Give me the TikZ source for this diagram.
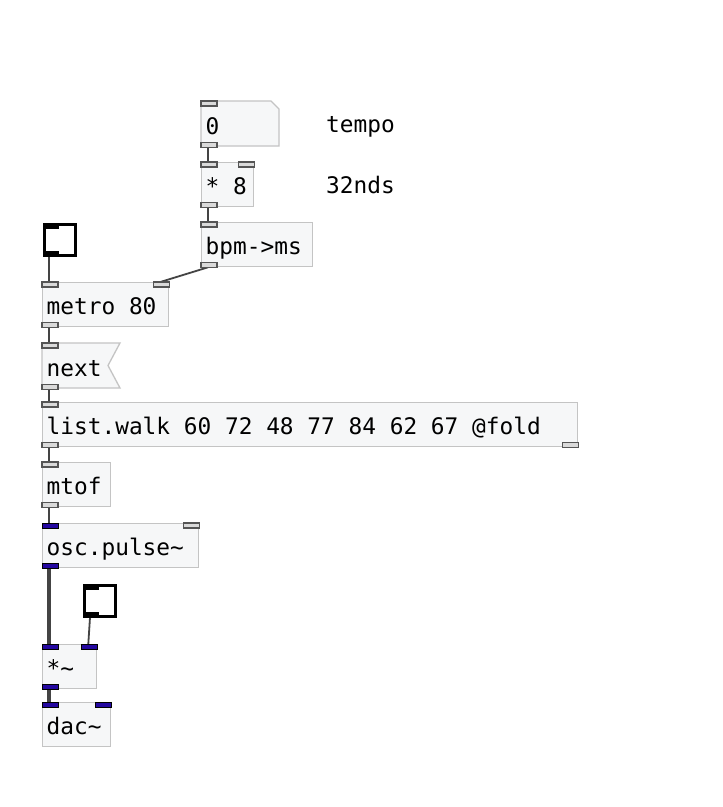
\documentclass[tikz,border=0pt]{standalone}
\usepackage{fontspec}
\newfontfamily\pdfont{DejaVu Sans Mono}
\newcommand\pdtext{\pdfont\fontsize{22.8pt}{26pt}\selectfont}
\newcommand\pdspaces{\spaceskip=\fontcharwd\font`0\relax\xspaceskip=\spaceskip}
\definecolor{boxfill}{RGB}{246,247,248}
\definecolor{boxline}{RGB}{196,196,196}
\definecolor{ioline}{RGB}{85,85,85}
\definecolor{iofill}{RGB}{218,218,218}
\definecolor{wirec}{RGB}{68,68,68}
\definecolor{sigblue}{RGB}{36,8,160}
\newcommand\pdInL[2][ctlio]{\draw[#1] (#2.north west) rectangle ++(16,5);}
\newcommand\pdInR[2][ctlio]{\draw[#1] ([xshift=-16pt]#2.north east) rectangle ++(16,5);}
\newcommand\pdOutL[2][ctlio]{\draw[#1] (#2.south west) rectangle ++(16,-5);}
\newcommand\pdOutR[2][ctlio]{\draw[#1] ([xshift=-16pt]#2.south east) rectangle ++(16,-5);}
\begin{document}
\begin{tikzpicture}[x=1pt,y=-1pt,
  obj/.style={draw=boxline, fill=boxfill, line width=1.3pt, anchor=north west,
    minimum height=44pt, inner xsep=4pt, inner ysep=0pt, text height=21pt,
    text depth=1pt, align=left, font=\pdtext, execute at begin node=\pdspaces},
  msgtext/.style={obj, draw=none, fill=none, minimum height=45pt},
  shapebox/.style={draw=boxline, fill=boxfill, line width=1.3pt},
  cmt/.style={anchor=base west, inner sep=0pt, font=\pdtext},
  tgl/.style={draw=black, fill=white, line width=2.5pt, anchor=north west,
    minimum width=31pt, minimum height=31pt, inner sep=0pt},
  tglmark/.style={fill=black},
  ctlio/.style={draw=ioline, fill=iofill, line width=1.2pt},
  sigio/.style={fill=sigblue},
  wire/.style={draw=wirec, line width=1.8pt},
  sigwire/.style={draw=wirec, line width=4pt},
]
\fill[white] (0,0) rectangle (723,807);
\useasboundingbox (0,0) rectangle (723,807);

% message / atom shapes
\draw[shapebox] (201,101) -- (271,101) -- (279,109) -- (279,146) -- (201,146) -- cycle;
\draw[shapebox] (42,343) -- (120,343) -- (108,365.5) -- (120,388) -- (42,388) -- cycle;

% boxes
\node[msgtext, text width=70pt] (num) at (201,101) {0};
\node[obj, text width=44pt] (times) at (201,162) {* 8};
\node[obj, text width=103pt] (bpm) at (201,222) {bpm->ms};
\node[tgl] (tog1) at (43,223) {};
\node[obj, text width=118pt] (metro) at (42,282) {metro 80};
\node[msgtext, text width=70pt] (next) at (42,343) {next};
\node[obj, text width=527pt] (walk) at (42,402) {list.walk 60 72 48 77 84 62 67 @fold};
\node[obj, text width=60pt] (mtof) at (42,462) {mtof};
\node[obj, text width=148pt] (osc) at (42,523) {osc.pulse\textasciitilde};
\node[tgl] (tog2) at (83,584) {};
\node[obj, text width=46pt] (mul) at (42,644) {*\textasciitilde};
\node[obj, text width=60pt] (dac) at (42,702) {dac\textasciitilde};

% comments
\node[cmt] (c1) at (326,132) {tempo};
\node[cmt] (c2) at (326,193) {32nds};

% wires
\draw[wire] ([xshift=7pt]num.south west) -- ([xshift=7pt]times.north west);
\draw[wire] ([xshift=7pt]times.south west) -- ([xshift=7pt]bpm.north west);
\draw[wire] ([xshift=7pt]bpm.south west) -- ([xshift=-9pt]metro.north east);
\draw[wire] ([xshift=6pt]tog1.south west) -- ([xshift=7pt]metro.north west);
\draw[wire] ([xshift=7pt]metro.south west) -- ([xshift=7pt]next.north west);
\draw[wire] ([xshift=7pt]next.south west) -- ([xshift=7pt]walk.north west);
\draw[wire] ([xshift=7pt]walk.south west) -- ([xshift=7pt]mtof.north west);
\draw[wire] ([xshift=7pt]mtof.south west) -- ([xshift=7pt]osc.north west);
\draw[sigwire] ([xshift=7pt]osc.south west) -- ([xshift=7pt]mul.north west);
\draw[wire] ([xshift=7pt]tog2.south west) -- ([xshift=-9pt]mul.north east);
\draw[sigwire] ([xshift=7pt]mul.south west) -- ([xshift=7pt]dac.north west);

% toggle marks
\fill[tglmark] (tog1.north west) rectangle ++(16,6);
\fill[tglmark] (tog1.south west) rectangle ++(16,-6);
\fill[tglmark] (tog2.north west) rectangle ++(16,6);
\fill[tglmark] (tog2.south west) rectangle ++(16,-6);

% iolets
\pdInL{num} \pdOutL{num}
\pdInL{times} \pdInR{times} \pdOutL{times}
\pdInL{bpm} \pdOutL{bpm}
\pdInL{metro} \pdInR{metro} \pdOutL{metro}
\pdInL{next} \pdOutL{next}
\pdInL{walk} \pdOutL{walk} \pdOutR{walk}
\pdInL{mtof} \pdOutL{mtof}
\pdInL[sigio]{osc} \pdInR{osc} \pdOutL[sigio]{osc}
\pdInL[sigio]{mul} \pdInR[sigio]{mul} \pdOutL[sigio]{mul}
\pdInL[sigio]{dac} \pdInR[sigio]{dac}
\end{tikzpicture}
\end{document}
